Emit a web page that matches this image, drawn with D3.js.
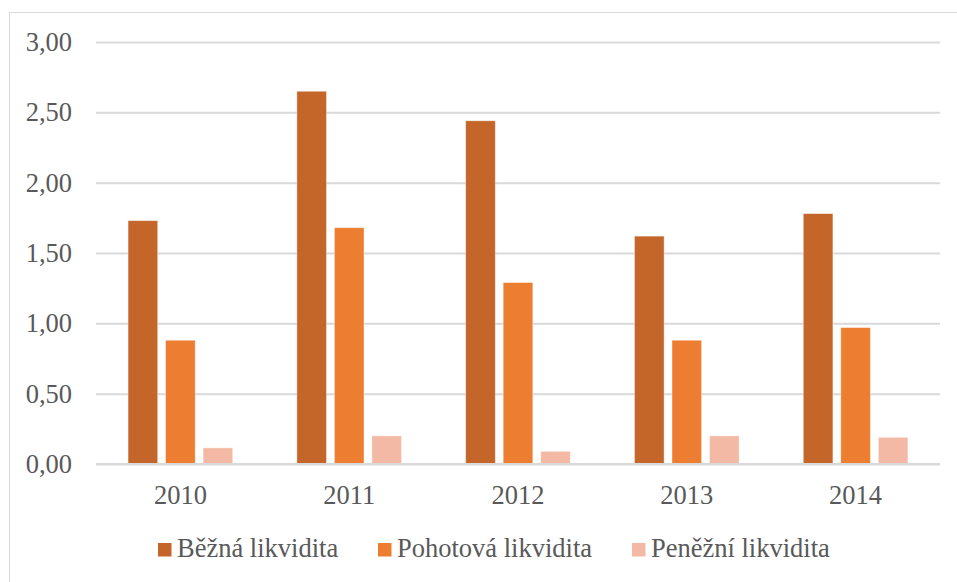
<!DOCTYPE html>
<html>
<head>
<meta charset="utf-8">
<script src="https://cdn.jsdelivr.net/npm/d3@7"></script>
<style>
  body { margin: 0; background: #fff; }
</style>
</head>
<body>
<script>
// data
var years = ["2010", "2011", "2012", "2013", "2014"];
var seriesNames = ["Běžná likvidita", "Pohotová likvidita", "Peněžní likvidita"];
var bezna = [1.73, 2.65, 2.44, 1.62, 1.78];
var pohotova = [0.88, 1.68, 1.29, 0.88, 0.97];
var penezni = [0.115, 0.20, 0.09, 0.20, 0.19];
var yTicks = [0, 0.5, 1, 1.5, 2, 2.5, 3];

var colors = ["#C4652A", "#ED7D31", "#F4B9A5"];
var values = [bezna, pohotova, penezni];
var font = "'Liberation Serif', 'Times New Roman', 'DejaVu Serif', serif";
var fontSize = "26.5px";

var width = 957, height = 582;
var margin = { left: 96, right: 17, top: 42, bottom: 118 };

var svg = d3.select("body").append("svg")
  .attr("width", width)
  .attr("height", height);

// chart frame
svg.append("rect")
  .attr("x", 9.5).attr("y", 12.5)
  .attr("width", width + 10).attr("height", height + 10)
  .attr("fill", "none")
  .attr("stroke", "#d9d9d9")
  .attr("stroke-width", 1);

var y = d3.scaleLinear()
  .domain([0, 3])
  .range([height - margin.bottom, margin.top]);

var x0 = d3.scaleBand()
  .domain(years)
  .range([margin.left, width - margin.right])
  .paddingInner(0.38)
  .paddingOuter(0.19);

var x1 = d3.scaleBand()
  .domain(d3.range(seriesNames.length))
  .range([0, x0.bandwidth()])
  .paddingInner(0.21);

// gridlines + y labels
var yAxis = d3.axisLeft(y)
  .tickValues(yTicks)
  .tickSize(-(width - margin.right - margin.left))
  .tickPadding(24)
  .tickFormat(function(d) { return d3.format(".2f")(d).replace(".", ","); });

var gy = svg.append("g")
  .attr("transform", "translate(" + margin.left + ",0)")
  .call(yAxis);
gy.select(".domain").remove();
gy.selectAll(".tick line")
  .attr("stroke", "#d9d9d9")
  .attr("stroke-width", 2);
gy.selectAll(".tick text")
  .attr("fill", "#595959")
  .style("font-size", fontSize)
  .style("font-family", font);

// bars
var groups = svg.selectAll("g.year")
  .data(years)
  .enter().append("g")
  .attr("class", "year")
  .attr("transform", function(d) { return "translate(" + x0(d) + ",0)"; });

groups.selectAll("rect")
  .data(function(d, i) { return values.map(function(v, s) { return { s: s, v: v[i] }; }); })
  .enter().append("rect")
  .attr("x", function(d) { return x1(d.s); })
  .attr("width", x1.bandwidth())
  .attr("y", function(d) { return y(d.v); })
  .attr("height", function(d) { return y(0) - y(d.v); })
  .attr("fill", function(d) { return colors[d.s]; })
  .attr("stroke", "#fff")
  .attr("stroke-opacity", 0.5)
  .attr("stroke-width", 0.8);

// x labels
var xAxis = d3.axisBottom(x0).tickSize(0).tickPadding(21);
var gx = svg.append("g")
  .attr("transform", "translate(0," + y(0) + ")")
  .call(xAxis);
gx.select(".domain")
  .attr("stroke", "#d9d9d9")
  .attr("stroke-width", 2)
  .attr("d", "M" + margin.left + ",0H" + (width - margin.right));
gx.selectAll(".tick text")
  .attr("fill", "#595959")
  .style("font-size", fontSize)
  .style("font-family", font);

// legend
var legendX = [158, 378, 632];
var legend = svg.selectAll("g.legend")
  .data(seriesNames)
  .enter().append("g")
  .attr("class", "legend")
  .attr("transform", function(d, i) { return "translate(" + legendX[i] + ",557)"; });

legend.append("rect")
  .attr("x", 0).attr("y", -14)
  .attr("width", 13.5).attr("height", 13.5)
  .attr("fill", function(d, i) { return colors[i]; });

legend.append("text")
  .attr("x", 19).attr("y", 0)
  .attr("fill", "#595959")
  .style("font-size", fontSize)
  .style("font-family", font)
  .text(function(d) { return d; });
</script>
</body>
</html>
